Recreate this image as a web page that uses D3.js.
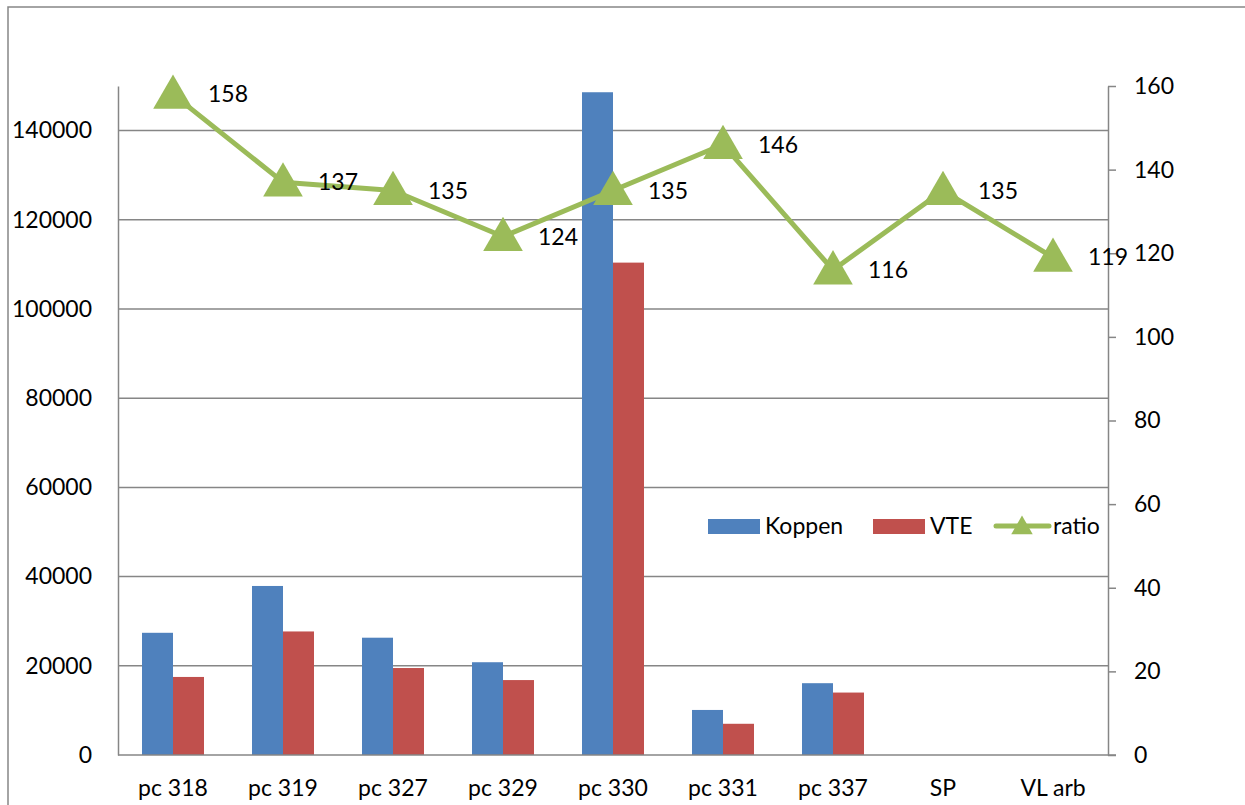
<!DOCTYPE html>
<html>
<head>
<meta charset="utf-8">
<script src="https://cdn.jsdelivr.net/npm/d3@7"></script>
<style>
  body { margin: 0; background: #fff; }
  svg { font-family: Lato, "Open Sans", sans-serif; }
</style>
</head>
<body>
<svg id="chart" width="1245" height="805"></svg>
<script>
const categories = ["pc 318", "pc 319", "pc 327", "pc 329", "pc 330", "pc 331", "pc 337", "SP", "VL arb"];
const koppen = [27400, 37900, 26300, 20800, 148600, 10100, 16100, null, null];
const vte = [17500, 27700, 19500, 16800, 110400, 7000, 14000, null, null];
const ratio = [158, 137, 135, 124, 135, 146, 116, 135, 119];
const leftTicks = [0, 20000, 40000, 60000, 80000, 100000, 120000, 140000];
const rightTicks = [0, 20, 40, 60, 80, 100, 120, 140, 160];

const svg = d3.select("#chart");
const margin = { left: 118, right: 1108, top: 86, bottom: 755 };
const grey = "#868686";
const fontSize = 23;

// outer frame
svg.append("rect")
    .attr("x", 8).attr("y", 7)
    .attr("width", 1260).attr("height", 820)
    .attr("fill", "none").attr("stroke", grey).attr("stroke-width", 1.5);

const x = d3.scaleBand().domain(categories).range([margin.left, margin.right]);
const yLeft = d3.scaleLinear().domain([0, 150000]).range([margin.bottom, margin.top]);
const yRight = d3.scaleLinear().domain([0, 160]).range([margin.bottom, margin.top]);
const barW = 31;

// gridlines
svg.append("g").selectAll("line")
    .data(leftTicks.slice(1))
    .enter().append("line")
    .attr("x1", margin.left).attr("x2", margin.right)
    .attr("y1", d => yLeft(d)).attr("y2", d => yLeft(d))
    .attr("stroke", grey).attr("stroke-width", 1.5);

// bars
const series = [
    { name: "Koppen", values: koppen, color: "#4F81BD", offset: -barW },
    { name: "VTE", values: vte, color: "#C0504D", offset: 0 }
];
series.forEach(s => {
    svg.append("g").selectAll("rect")
        .data(categories.map((c, i) => ({ c, v: s.values[i] })).filter(d => d.v != null))
        .enter().append("rect")
        .attr("x", d => x(d.c) + x.bandwidth() / 2 + s.offset)
        .attr("y", d => yLeft(d.v))
        .attr("width", barW)
        .attr("height", d => yLeft(0) - yLeft(d.v))
        .attr("fill", s.color);
});

// left axis
const leftAxis = svg.append("g")
    .attr("transform", `translate(${margin.left},0)`)
    .call(d3.axisLeft(yLeft).tickValues(leftTicks).tickSize(0).tickPadding(26).tickFormat(d3.format("d")));
leftAxis.select(".domain").attr("stroke", grey).attr("stroke-width", 1.5);
leftAxis.selectAll("text").attr("font-size", fontSize).attr("fill", "#000").attr("font-family", "Lato");

// right axis
const rightAxis = svg.append("g")
    .attr("transform", `translate(${margin.right},0)`)
    .call(d3.axisRight(yRight).tickValues(rightTicks).tickSize(8).tickSizeOuter(0).tickPadding(18));
rightAxis.select(".domain").attr("stroke", grey).attr("stroke-width", 1.5);
rightAxis.selectAll("line").attr("stroke", grey).attr("stroke-width", 1.5);
rightAxis.selectAll("text").attr("font-size", fontSize).attr("fill", "#000").attr("font-family", "Lato");

// bottom axis
const bottomAxis = svg.append("g")
    .attr("transform", `translate(0,${margin.bottom})`)
    .call(d3.axisBottom(x).tickSize(0).tickPadding(25));
bottomAxis.select(".domain").attr("stroke", grey).attr("stroke-width", 1.5)
    .attr("d", `M${margin.left},0H${margin.right + 8}`);
bottomAxis.selectAll("text").attr("font-size", fontSize).attr("fill", "#000").attr("font-family", "Lato");

// ratio line
const green = "#9BBB59";
const cx = (c) => x(c) + x.bandwidth() / 2;
const lineData = categories.map((c, i) => ({ c, v: ratio[i] }));
svg.append("path")
    .datum(lineData)
    .attr("fill", "none")
    .attr("stroke", green)
    .attr("stroke-width", 5)
    .attr("stroke-linejoin", "round")
    .attr("d", d3.line().x(d => cx(d.c)).y(d => yRight(d.v)));

const tri = d3.symbol().type(d3.symbolTriangle).size(680);
svg.append("g").selectAll("path")
    .data(lineData)
    .enter().append("path")
    .attr("d", tri)
    .attr("transform", d => `translate(${cx(d.c)},${yRight(d.v) + 3})`)
    .attr("fill", green);

svg.append("g").selectAll("text")
    .data(lineData)
    .enter().append("text")
    .attr("x", d => cx(d.c) + 35)
    .attr("y", d => yRight(d.v) + 8)
    .attr("font-size", fontSize)
    .text(d => d.v);

// legend
const legend = svg.append("g");
legend.append("rect").attr("x", 708).attr("y", 519).attr("width", 52).attr("height", 15).attr("fill", "#4F81BD");
legend.append("text").attr("x", 765).attr("y", 534).attr("font-size", fontSize).text("Koppen");
legend.append("rect").attr("x", 873).attr("y", 519).attr("width", 52).attr("height", 15).attr("fill", "#C0504D");
legend.append("text").attr("x", 930).attr("y", 534).attr("font-size", fontSize).text("VTE");
legend.append("line").attr("x1", 996).attr("x2", 1049).attr("y1", 526).attr("y2", 526)
    .attr("stroke", green).attr("stroke-width", 5).attr("stroke-linecap", "round");
legend.append("path").attr("d", d3.symbol().type(d3.symbolTriangle).size(200))
    .attr("transform", "translate(1022,528)").attr("fill", green);
legend.append("text").attr("x", 1053).attr("y", 534).attr("font-size", fontSize).text("ratio");
</script>
</body>
</html>
